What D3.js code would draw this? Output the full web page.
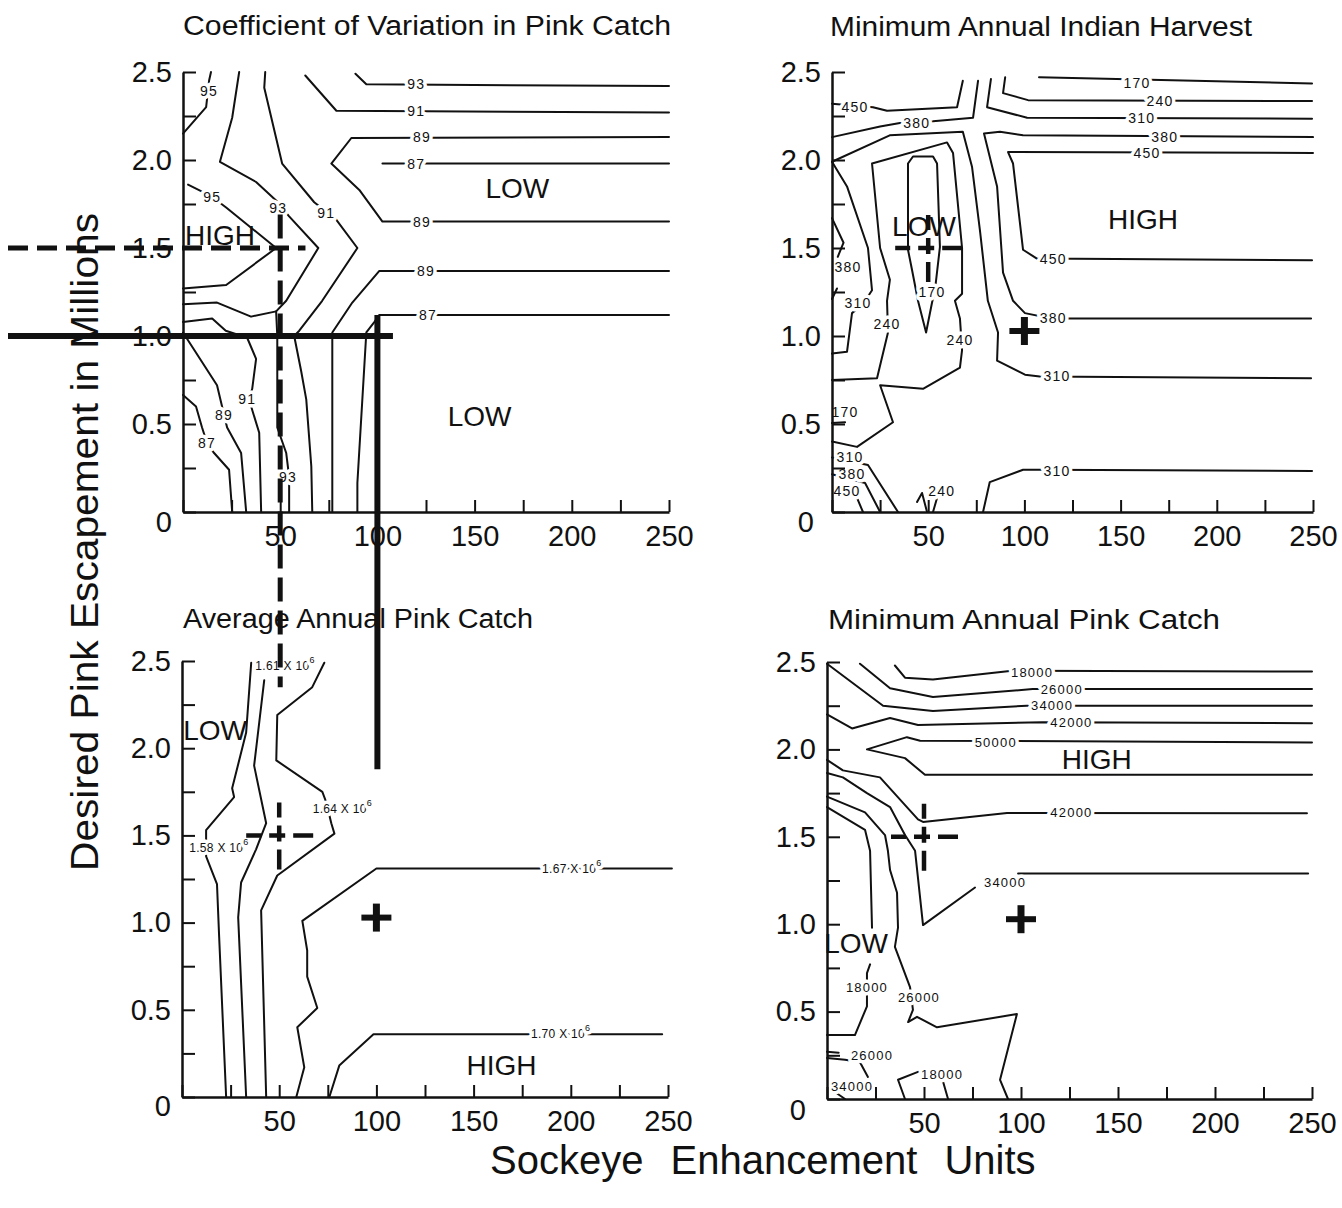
<!DOCTYPE html>
<html>
<head>
<meta charset="utf-8">
<script src="https://cdn.jsdelivr.net/npm/d3@7"></script>
<style>
  body { margin: 0; background: #fff; }
  svg { display: block; }
  text { font-family: "Liberation Sans", Arial, sans-serif; fill: #111; }
</style>
</head>
<body>
<svg id="chart" width="1342" height="1208"></svg>
<script>
// Axes: sockeye enhancement units (x) and desired pink escapement in millions (y)
const xTickValues = d3.range(0, 251, 25);
const yTickValues = d3.range(0, 2.51, 0.25);

// Management options marked on every panel: [enhancement units, escapement]
const optionDashed = [50, 1.5];
const optionSolid = [100, 1.0];

// ---- Coefficient of variation in pink catch: contour polylines [x, y]
const cvLines = [
  [[88.7,2.49],[94.3,2.43],[250,2.42]],
  [[62.9,2.48],[78.9,2.28],[250,2.27]],
  [[250,2.13],[86.6,2.125],[76.3,1.98],[90.7,1.83],[102.6,1.65],[250,1.65]],
  [[102.6,1.98],[250,1.98]],
  [[250,1.37],[101,1.37],[87.1,1.19],[76.8,1.02],[76.8,0]],
  [[250,1.12],[101,1.12],[98.5,1.08],[94.3,1.02],[89.7,0.165],[89.7,0]],
  [[28.9,2.5],[25.3,2.24],[19,1.99],[37.6,1.875],[47.9,1.77],[54.6,1.68],[69.6,1.5],[53.1,1.2],[47.9,1.14],[35,1.11],[17.5,1.19],[0,1.18]],
  [[47.9,1.14],[48.5,1.0],[48.5,0.48],[53.1,0.335],[54.6,0.2],[54.6,0]],
  [[42.3,2.5],[41.8,2.41],[51,1.98],[67.5,1.76],[78.9,1.66],[89.7,1.5],[71.6,1.2],[59.8,1.03],[57.2,1.0],[60.8,0.8],[63.4,0.64],[66,0.26],[66.5,0]],
  [[14.4,2.5],[13.4,2.45],[11.9,2.3],[0,2.15]],
  [[2.6,1.86],[9.8,1.82],[15,1.79],[22.2,1.73],[47.9,1.5],[22.2,1.29],[0,1.27]],
  [[0,1.08],[15,1.1],[22,1.03],[33,0.99],[37.6,0.87],[35.6,0.7],[34,0.64],[35.6,0.58],[39.2,0.45],[40.2,0]],
  [[0,1.02],[17.5,0.72],[20.1,0.6],[21.1,0.55],[22.7,0.48],[29.9,0.335],[32.5,0]],
  [[0,0.665],[6.7,0.6],[9.8,0.48],[12.4,0.39],[16,0.335],[23.7,0.24],[25.3,0]]
];
const cvLabels = [
  [120,2.43,"93"],[120,2.28,"91"],[123,2.13,"89"],[120,1.98,"87"],[123,1.65,"89"],
  [125,1.37,"89"],[126,1.12,"87"],[49,1.73,"93"],[54,0.2,"93"],[73.7,1.70,"91"],
  [13.4,2.39,"95"],[15,1.79,"95"],[33,0.64,"91"],[21.1,0.55,"89"],[12.4,0.39,"87"]
];
const cvRegions = [[19,1.57,"HIGH"],[172,1.84,"LOW"],[152.6,0.54,"LOW"]];

// ---- Minimum annual Indian harvest
const indianLines = [
  [[107.6,2.47],[249.5,2.435]],
  [[90,2.47],[88.9,2.38],[101.9,2.34],[249.5,2.335]],
  [[82.6,2.46],[80.6,2.30],[101.4,2.24],[249.5,2.235]],
  [[250,2.13],[99.3,2.14],[87.3,2.16],[79,2.15],[85.8,1.85],[88.9,1.36],[94.1,1.2],[100.3,1.13],[114,1.10],[249,1.10]],
  [[250,2.04],[91.5,2.045],[94.1,1.98],[99.3,1.49],[106.5,1.44],[249.5,1.43]],
  [[0,2.32],[21.3,2.30],[28.6,2.28],[65,2.30],[68,2.45]],
  [[0,2.13],[25,2.19],[35.3,2.21],[52.5,2.22],[73.3,2.24],[75.9,2.45]],
  [[0,1.99],[30,2.14],[68,2.16],[72.8,1.96],[77,1.59],[81,1.2],[86.3,1.02],[85.8,0.86],[100.3,0.78],[108,0.77],[249,0.76]],
  [[0,1.99],[7.8,1.85],[18.7,1.5],[20.8,1.26],[16,1.18],[10.4,1.13],[7.8,0.91],[0,0.90]],
  [[0,1.67],[6,1.53],[3,1.45]],
  [[2.6,1.27],[0,1.21]],
  [[0,0.75],[23.4,0.76],[29.1,1.02],[28.6,1.2],[30.1,1.32],[25,1.5],[20.8,1.98],[59.8,2.10],[62.9,2.04],[67.6,1.5],[67.6,1.24],[63.9,1.2],[66.5,1.1],[67.6,0.92],[66.5,0.82],[47.3,0.70],[25,0.72],[31.7,0.51],[13,0.37],[0,0.40]],
  [[39.5,1.49],[39.5,1.98],[42.1,2.02],[52.5,2.02],[54.6,1.98],[56.1,1.506],[53.5,1.26],[52,1.19],[48.9,1.02],[44.7,1.2],[41.6,1.375],[39.5,1.49]],
  [[0,0.505],[6.8,0.51]],
  [[0,0.31],[18.7,0.267],[34.3,0]],
  [[0,0.215],[17.2,0.165],[25,0]],
  [[13,0.08],[16.1,0]],
  [[44.2,0.057],[46.8,0.108],[49.4,0]],
  [[54.6,0.08],[52.5,0]],
  [[78.5,0],[82,0.17],[99.3,0.24],[108,0.24],[249.5,0.233]]
];
const indianLabels = [
  [158.5,2.44,"170"],[170.5,2.335,"240"],[161,2.24,"310"],[173,2.13,"380"],[163.7,2.04,"450"],
  [115,1.10,"380"],[115,1.44,"450"],[12,2.30,"450"],[44,2.21,"380"],[117,0.77,"310"],
  [13.5,1.19,"310"],[8.3,1.39,"380"],[28.6,1.07,"240"],[66.5,0.98,"240"],[52,1.25,"170"],
  [6.8,0.57,"170"],[9.4,0.31,"310"],[10.4,0.215,"380"],[7.8,0.12,"450"],[57,0.12,"240"],[117,0.233,"310"]
];
const indianRegions = [[47.8,1.625,"LOW"],[161.6,1.66,"HIGH"]];

// ---- Average annual pink catch (labels in units of 10^6)
const avgLines = [
  [[35.6,2.49],[33,2.09],[25.8,1.77],[26.8,1.72],[12.4,1.53],[12.4,1.38],[18,1.22],[19.1,0.92],[22.7,0]],
  [[42.3,2.39],[37.1,1.90],[43.3,1.57],[38.1,1.42],[30.4,1.23],[28.9,1.03],[33,0]],
  [[73.2,2.49],[67,2.35],[49,2.19],[48.5,1.93],[72.2,1.75],[74.2,1.69],[76.8,1.57],[78.4,1.51],[49,1.27],[40.7,1.07],[43.3,0]],
  [[252,1.31],[100,1.31],[61.9,1.01],[64.4,0.84],[64.4,0.69],[69.6,0.51],[59.3,0.40],[62.9,0.17],[58.8,0]],
  [[247,0.36],[98.5,0.36],[80.9,0.18],[75.8,0]]
];
const avgLabels = [
  [19,1.43,"1.58"],[53,2.47,"1.61"],[82.5,1.65,"1.64"],[200.5,1.31,"1.67"],[194.8,0.36,"1.70"]
];
const avgRegions = [[17,2.10,"LOW"],[164.4,0.18,"HIGH"]];

// ---- Minimum annual pink catch
const minLines = [
  [[35,2.48],[40.2,2.41],[54.6,2.40],[95.4,2.45],[250,2.445]],
  [[17,2.49],[32.5,2.35],[54.6,2.30],[106,2.345],[250,2.345]],
  [[0,2.49],[28.9,2.25],[54.6,2.22],[103,2.25],[250,2.25]],
  [[0,2.20],[12.9,2.12],[32.5,2.18],[46.9,2.14],[111,2.155],[250,2.15]],
  [[250,2.04],[48,2.05],[41.2,2.07],[20.6,2.0],[40.2,1.95],[50.5,1.855],[250,1.855]],
  [[0,1.94],[8.2,1.88],[27.3,1.84],[46.9,1.60],[49.5,1.585],[92.8,1.636],[111,1.636],[247.4,1.635]],
  [[0,1.865],[8.2,1.84],[20.6,1.75],[32.5,1.67],[40.2,1.51],[45.4,1.42],[49.5,0.995],[76.3,1.21]],
  [[98.5,1.29],[248,1.29]],
  [[0,1.73],[19.6,1.64],[29.9,1.51],[31.4,1.42],[32.5,1.31],[36.1,1.18],[36.6,0.98],[35,0.87],[42.8,0.64],[44.3,0.51],[41.8,0.44],[46.4,0.47],[56.7,0.41],[97.9,0.486],[89.2,0.11],[93.3,0]],
  [[0,1.67],[19.6,1.54],[22.2,1.42],[23.2,0.98]],
  [[22.2,0.77],[20.6,0.72],[20.6,0.53],[14.4,0.366],[0,0.366]],
  [[0,0.27],[6,0.265]],
  [[0,0.235],[9.3,0.225],[17,0.21],[21.1,0.126]],
  [[4.1,0.04],[9.3,0]],
  [[40.2,0],[36.6,0.11],[46.9,0.155]],
  [[59.8,0.1],[62.4,0]]
];
const minLabels = [
  [105.7,2.44,"18000"],[121,2.345,"26000"],[116,2.25,"34000"],[126,2.155,"42000"],[87,2.04,"50000"],
  [126,1.64,"42000"],[91.8,1.24,"34000"],[47.4,0.58,"26000"],[20.6,0.64,"18000"],
  [23.2,0.25,"26000"],[12.9,0.074,"34000"],[59.3,0.143,"18000"]
];
const minRegions = [[139,1.94,"HIGH"],[15,0.89,"LOW"]];

const svg = d3.select("#chart");

// shared y-axis title, drawn first so the guide lines pass over it
svg.append("text")
  .attr("transform", "translate(98,542) rotate(-90)")
  .attr("text-anchor", "middle")
  .attr("font-size", 38)
  .attr("textLength", 658)
  .attr("lengthAdjust", "spacingAndGlyphs")
  .text("Desired Pink Escapement in Millions");

const panels = [
  { key: "cv", title: "Coefficient of Variation in Pink Catch", tx: 183, ty: 35, tw: 488,
    xr: [183, 669], yr: [512, 72], zero: [0, 10],
    lines: cvLines, labels: cvLabels, regions: cvRegions, lblSize: 14, cross: false },
  { key: "indian", title: "Minimum Annual Indian Harvest", tx: 830, ty: 36, tw: 422,
    xr: [832, 1313], yr: [512, 72], zero: [-7, 10],
    lines: indianLines, labels: indianLabels, regions: indianRegions, lblSize: 14, cross: true },
  { key: "avg", title: "Average Annual Pink Catch", tx: 183, ty: 628, tw: 350,
    xr: [182, 668], yr: [1097, 661], zero: [0, 9],
    lines: avgLines, labels: avgLabels, regions: avgRegions, lblSize: 12, sci: true, cross: true },
  { key: "min", title: "Minimum Annual Pink Catch", tx: 828, ty: 629, tw: 392,
    xr: [827, 1312], yr: [1099, 662], zero: [-10, 11],
    lines: minLines, labels: minLabels, regions: minRegions, lblSize: 13, cross: true }
];

const scales = {};

panels.forEach(p => {
  const x = d3.scaleLinear().domain([0, 250]).range(p.xr);
  const y = d3.scaleLinear().domain([0, 2.5]).range(p.yr);
  scales[p.key] = { x, y };
  const g = svg.append("g").attr("class", "panel-" + p.key);
  const line = d3.line().x(d => x(d[0])).y(d => y(d[1]));

  // contour lines
  g.append("g").selectAll("path").data(p.lines).join("path")
    .attr("d", line)
    .attr("fill", "none")
    .attr("stroke", "#111")
    .attr("stroke-width", 2)
    .attr("stroke-linejoin", "round")
    .attr("stroke-linecap", "round");

  // contour value labels, with a white halo that breaks the line
  const lg = g.append("g");
  p.labels.forEach(d => {
    const t = lg.append("text")
      .attr("x", x(d[0])).attr("y", y(d[1]))
      .attr("text-anchor", "middle")
      .attr("dominant-baseline", "central")
      .attr("font-size", p.lblSize)
      .attr("letter-spacing", p.sci ? 0.3 : 1.2)
      .attr("stroke", "#fff").attr("stroke-width", 7)
      .attr("stroke-linejoin", "round")
      .attr("paint-order", "stroke");
    if (p.sci) {
      t.append("tspan").text(d[2] + " X 10");
      t.append("tspan").attr("dy", -6).attr("font-size", 9).text("6");
    } else {
      t.text(d[2]);
    }
  });

  // HIGH / LOW region words
  g.append("g").selectAll("text").data(p.regions).join("text")
    .attr("x", d => x(d[0])).attr("y", d => y(d[1]))
    .attr("text-anchor", "middle")
    .attr("dominant-baseline", "central")
    .attr("font-size", 28)
    .text(d => d[2]);

  // axes with inward ticks
  const xa = d3.axisBottom(x).tickValues(xTickValues)
    .tickSizeInner(-12).tickSizeOuter(0).tickPadding(13)
    .tickFormat(d => (d > 0 && d % 50 === 0) ? d : "");
  const ya = d3.axisLeft(y).tickValues(yTickValues)
    .tickSizeInner(-13).tickSizeOuter(0).tickPadding(11)
    .tickFormat(d => (Math.round(d * 4) % 2 === 0) ? (d === 0 ? "0" : d.toFixed(1)) : "");

  const gx = g.append("g").attr("transform", `translate(0,${p.yr[0]})`).call(xa);
  const gy = g.append("g").attr("transform", `translate(${p.xr[0]},0)`).call(ya);
  [gx, gy].forEach(a => {
    a.attr("font-size", null).attr("font-family", null);
    a.select(".domain").attr("stroke", "#111").attr("stroke-width", 2.5);
    a.selectAll(".tick line").attr("stroke", "#111").attr("stroke-width", 2);
    a.selectAll(".tick text").attr("font-size", 29).attr("fill", "#111");
  });
  gy.selectAll(".tick text").filter(d => d === 0)
    .attr("transform", `translate(${p.zero[0]},${p.zero[1]})`);

  // panel title
  svg.append("text")
    .attr("x", p.tx).attr("y", p.ty)
    .attr("font-size", 27)
    .attr("textLength", p.tw)
    .attr("lengthAdjust", "spacingAndGlyphs")
    .text(p.title);

  // option markers
  if (p.cross) {
    const cx = x(optionDashed[0]), cy = y(optionDashed[1]);
    const dash = "15,8,16,8,20";
    g.append("line").attr("x1", cx - 33).attr("x2", cx + 34).attr("y1", cy).attr("y2", cy)
      .attr("stroke", "#111").attr("stroke-width", 4.5).attr("stroke-dasharray", dash);
    g.append("line").attr("x1", cx).attr("x2", cx).attr("y1", cy - 33).attr("y2", cy + 34)
      .attr("stroke", "#111").attr("stroke-width", 4.5).attr("stroke-dasharray", dash);
    const px = x(optionSolid[0]), py = y(optionSolid[1]) - 5;
    g.append("line").attr("x1", px - 15).attr("x2", px + 15).attr("y1", py).attr("y2", py)
      .attr("stroke", "#111").attr("stroke-width", 6);
    g.append("line").attr("x1", px).attr("x2", px).attr("y1", py - 14).attr("y2", py + 14)
      .attr("stroke", "#111").attr("stroke-width", 7);
  }
});

// guide lines running from the CV panel down into the average-catch panel
const cv = scales.cv, avg = scales.avg;
const guides = svg.append("g");
guides.append("line")
  .attr("x1", 8).attr("x2", cv.x(63)).attr("y1", cv.y(optionDashed[1])).attr("y2", cv.y(optionDashed[1]))
  .attr("stroke", "#111").attr("stroke-width", 5).attr("stroke-dasharray", "20,9");
guides.append("line")
  .attr("x1", cv.x(optionDashed[0])).attr("x2", cv.x(optionDashed[0]))
  .attr("y1", cv.y(1.69)).attr("y2", avg.y(2.35))
  .attr("stroke", "#111").attr("stroke-width", 5).attr("stroke-dasharray", "24,9");
guides.append("line")
  .attr("x1", 8).attr("x2", cv.x(108)).attr("y1", cv.y(optionSolid[1])).attr("y2", cv.y(optionSolid[1]))
  .attr("stroke", "#111").attr("stroke-width", 6);
guides.append("line")
  .attr("x1", cv.x(optionSolid[0])).attr("x2", cv.x(optionSolid[0]))
  .attr("y1", cv.y(1.12)).attr("y2", avg.y(1.88))
  .attr("stroke", "#111").attr("stroke-width", 6);

// shared x-axis title
svg.append("text")
  .attr("x", 490).attr("y", 1174)
  .attr("font-size", 40)
  .attr("word-spacing", 16)
  .text("Sockeye Enhancement Units");
</script>
</body>
</html>
